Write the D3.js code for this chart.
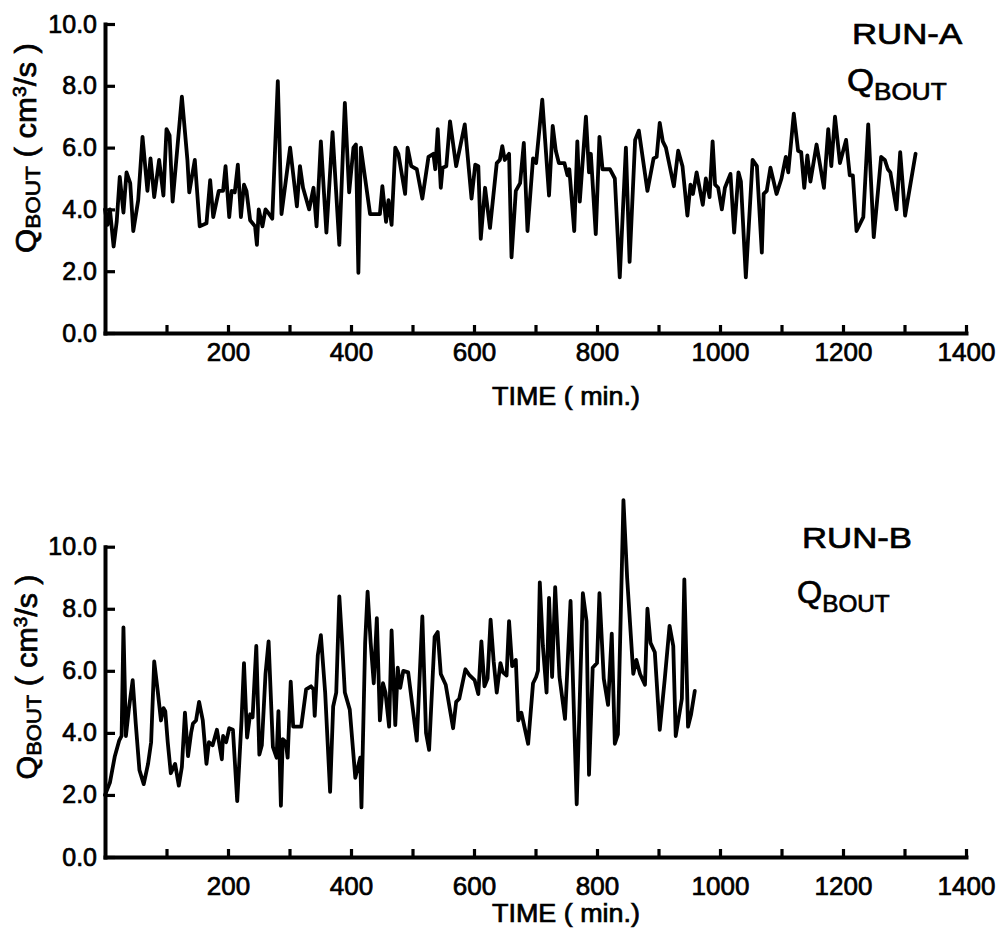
<!DOCTYPE html>
<html>
<head>
<meta charset="utf-8">
<script src="https://cdn.jsdelivr.net/npm/d3@7"></script>
<style>
html,body{margin:0;padding:0;background:#fff;}
svg{display:block;}
text{font-family:"Liberation Sans",Arial,Helvetica,sans-serif;fill:#000;stroke:#000;stroke-width:0.7px;}
</style>
</head>
<body>
<svg id="chart" width="1004" height="942"></svg>
<script>
// ---- data ----
const xTicks = [100,200,300,400,500,600,700,800,900,1000,1100,1200,1300,1400];
const xTickLabels = ["","200","","400","","600","","800","","1000","","1200","","1400"];
const yTicks = [0,2,4,6,8,10];
const yTickLabels = ["0.0","2.0","4.0","6.0","8.0","10.0"];

const timeA = [0,4,8,14,19,24,30,35,41,46,
 54,61,69,74,80,88,95,100,105,110,
 125,134,137,146,154,165,171,176,185,192,
 196,202,206,211,216,221,226,230,236,244,
 247,250,256,261,265,272,281,287,301,312,
 317,322,332,339,344,351,360,370,381,390,
 397,404,408,412,416,423,431,447,451,457,
 461,466,472,477,488,492,498,507,516,526,
 534,537,541,546,549,555,561,571,585,596,
 602,607,611,618,626,637,642,646,650,657,
 661,668,675,681,687,696,701,711,722,728,
 733,738,747,752,755,763,768,772,782,787,
 790,798,804,809,821,829,837,847,853,862,
 868,882,892,897,902,907,912,925,932,939,
 947,952,956,962,972,977,983,988,992,997,
 1003,1008,1017,1023,1030,1034,1042,1053,1060,1068,
 1071,1076,1082,1092,1100,1107,1111,1120,1127,1132,
 1137,1142,1147,1157,1169,1176,1181,1187,1195,1205,
 1211,1216,1222,1233,1241,1250,1262,1268,1273,1277,
 1287,1293,1301,1318];
const qA = [4.0,3.5,4.0,2.8,3.6,5.05,3.9,5.2,4.85,3.3,
 4.3,6.35,4.6,5.65,4.4,5.6,4.45,6.6,6.4,4.25,
 7.65,5.6,4.55,5.6,3.45,3.55,4.95,3.75,4.6,4.6,
 5.4,3.75,4.6,4.55,5.45,3.75,4.8,4.6,3.65,3.45,
 2.85,4.0,3.45,4.0,3.9,3.7,8.15,3.85,6.0,4.1,
 5.4,4.7,4.0,4.7,3.45,6.2,3.25,6.5,2.85,7.45,
 4.55,6.0,6.1,1.95,6.0,5.0,3.85,3.85,4.75,3.6,
 4.3,3.5,6.0,5.8,4.5,6.0,5.4,5.3,4.35,5.7,
 5.8,5.3,6.6,4.7,5.35,5.4,6.85,5.4,6.75,4.35,
 5.45,5.4,3.05,4.7,3.4,5.5,5.6,6.05,5.6,5.8,
 2.45,4.6,4.85,6.15,3.3,5.65,5.5,7.55,4.45,6.7,
 5.9,5.5,5.5,5.1,5.3,3.3,6.2,4.25,7.0,5.2,
 5.8,3.2,6.35,5.3,5.3,5.0,1.8,6.0,2.3,6.25,
 6.55,4.6,5.65,5.7,6.8,6.2,6.0,4.75,5.9,5.4,
 3.8,4.8,4.5,5.2,4.15,5.0,4.4,6.2,4.8,4.7,
 4.0,4.7,5.15,3.25,5.2,4.9,1.8,5.6,5.4,2.6,
 4.5,4.6,5.35,4.5,5.0,5.7,5.2,7.1,5.9,5.85,
 4.7,5.75,4.9,6.1,4.7,6.6,5.4,7.0,5.5,6.25,
 5.1,5.1,3.3,3.75,6.75,3.1,5.7,5.6,5.3,5.2,
 4.0,5.85,3.8,5.8];

const timeB = [0,8,16,23,27,30,34,39,45,50,
 56,63,70,75,80,86,91,95,98,102,
 107,114,120,125,130,135,140,143,148,153,
 159,165,169,175,182,190,192,197,202,208,
 215,222,226,231,236,240,246,251,255,261,
 266,273,279,282,286,289,294,297,302,306,
 319,327,335,339,341,346,351,358,366,371,
 376,381,385,390,398,407,415,417,423,427,
 432,437,442,447,452,456,462,466,472,476,
 480,485,493,507,516,522,527,536,541,546,
 554,566,571,576,586,593,601,607,612,617,
 622,627,632,637,643,647,653,657,662,668,
 672,677,688,696,701,704,707,712,718,722,
 727,732,739,748,757,767,777,783,787,793,
 800,804,811,818,824,829,834,843,849,859,
 864,870,878,882,887,894,902,910,918,924,
 928,938,942,948,953,959];
const qB = [2.0,2.4,3.25,3.75,3.9,7.4,3.9,4.8,5.7,4.3,
 2.8,2.35,3.0,3.7,6.3,5.3,4.4,4.8,4.7,3.7,
 2.7,3.0,2.3,2.9,4.65,3.25,4.0,4.3,4.4,5.0,
 4.4,3.0,3.7,3.6,4.1,3.15,3.9,3.7,4.15,4.1,
 1.8,4.4,6.25,3.85,4.6,4.5,6.8,3.3,3.6,5.9,
 6.95,3.55,3.2,4.7,1.65,3.8,3.7,3.2,5.65,4.2,
 4.2,5.4,5.5,5.4,4.55,6.5,7.15,5.3,2.1,4.85,
 5.3,8.4,7.1,5.3,4.75,2.55,3.2,1.6,6.9,8.55,
 6.9,5.6,7.7,4.4,5.6,5.3,4.2,7.3,4.25,6.1,
 5.45,6.0,5.95,3.75,7.75,4.0,3.45,7.1,7.25,5.9,
 5.55,4.15,5.0,5.1,6.05,5.85,5.7,5.25,6.95,5.5,
 5.75,7.65,6.3,5.3,6.25,5.95,5.85,7.6,6.15,6.35,
 4.4,4.65,3.65,5.6,5.8,6.0,8.85,6.8,5.3,8.35,
 5.8,8.7,5.8,4.45,8.25,1.7,8.5,7.6,2.65,6.1,
 6.25,8.5,5.75,4.9,7.2,3.65,3.95,11.5,9.0,5.9,
 6.35,5.9,5.55,8.0,6.9,6.6,4.1,5.7,7.45,6.8,
 3.9,5.1,8.95,4.2,4.6,5.35];

const runLabels = ["RUN-A","RUN-B"];
const xTitle = "TIME ( min.)";

// ---- drawing ----
const svg = d3.select("#chart");
svg.append("rect").attr("width",1004).attr("height",942).attr("fill","#fff");

function fit(sel, target, x, y, rot){
  const w = sel.node().getBBox().width;
  const s = target / w;
  sel.attr("x",0).attr("y",0)
     .attr("transform",`translate(${x},${y})${rot?` rotate(${rot})`:""} scale(${s},1)`);
}

const panels = [
  {time: timeA, q: qA, run: runLabels[0], y0: 333, y1: 24, xPad: 10,
   runX: 852, runY: 44, runW: 111, qX: 847, qY: 91, qW: 100,
   titleX: 36, titleY: 148, titleW: 210, timeY: 405},
  {time: timeB, q: qB, run: runLabels[1], y0: 857, y1: 546.7, xPad: 20,
   runX: 802, runY: 548, runW: 110, qX: 797, qY: 603, qW: 93,
   titleX: 37, titleY: 677, titleW: 205, timeY: 922}
];

panels.forEach(p => {
  const x = d3.scaleLinear().domain([0,1400]).range([105,966]);
  const y = d3.scaleLinear().domain([0,10]).range([p.y0,p.y1]);

  // x axis
  const gx = svg.append("g").attr("transform",`translate(0,${p.y0})`)
    .call(d3.axisBottom(x).tickValues(xTicks).tickSizeInner(-8).tickSizeOuter(0)
      .tickPadding(p.xPad).tickFormat((d,i)=>xTickLabels[i]));
  // y axis
  const gy = svg.append("g").attr("transform",`translate(105,0)`)
    .call(d3.axisLeft(y).tickValues(yTicks).tickSizeInner(-10).tickSizeOuter(0)
      .tickPadding(8).tickFormat((d,i)=>yTickLabels[i]));

  [gx,gy].forEach(g=>{
    g.attr("font-family",null).attr("font-size",null);
    g.select(".domain").attr("stroke","#000").attr("stroke-width",4).attr("stroke-linecap","square");
    g.selectAll(".tick line").attr("stroke","#000").attr("stroke-width",3.2);
    g.selectAll(".tick text").attr("fill","#000");
  });
  gx.selectAll(".tick text").style("font-size","26px");
  gy.selectAll(".tick text").style("font-size","25px");

  // data line
  const pts = p.time.map((t,i)=>[t,p.q[i]]);
  svg.append("path").datum(pts)
    .attr("fill","none").attr("stroke","#000").attr("stroke-width",3.8)
    .attr("stroke-linejoin","round").attr("stroke-linecap","round")
    .attr("d", d3.line().x(d=>x(d[0])).y(d=>y(d[1])));

  // x title
  const tt = svg.append("text").attr("text-anchor","middle").style("font-size","25px").text(xTitle);
  fit(tt, 148, 566, p.timeY);

  // run label
  const rl = svg.append("text").style("font-size","29px").text(p.run);
  fit(rl, p.runW, p.runX, p.runY);

  // Q_BOUT label
  const ql = svg.append("text").style("font-size","32px");
  ql.append("tspan").text("Q");
  ql.append("tspan").style("font-size","24px").attr("dy",9).text("BOUT");
  fit(ql, p.qW, p.qX, p.qY);

  // y title
  const yt = svg.append("text").attr("text-anchor","middle").style("font-size","29px");
  yt.append("tspan").text("Q");
  yt.append("tspan").style("font-size","21px").attr("dy",4).text("BOUT");
  yt.append("tspan").attr("dy",-4).text(" ( cm");
  yt.append("tspan").style("font-size","18px").attr("dy",-10).text("3");
  yt.append("tspan").attr("dy",10).text("/s )");
  fit(yt, p.titleW, p.titleX, p.titleY, -90);
});
</script>
</body>
</html>
